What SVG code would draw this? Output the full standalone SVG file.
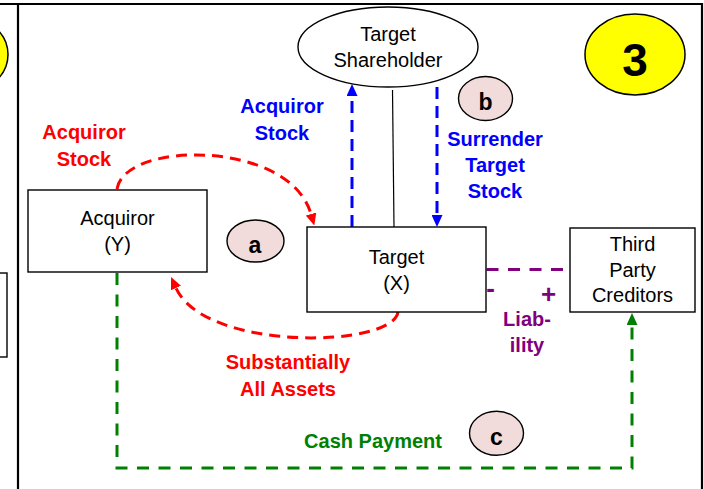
<svg xmlns="http://www.w3.org/2000/svg" width="704" height="489" viewBox="0 0 704 489">
<defs>
<style>
.node{fill:#fff;stroke:#000;stroke-width:1.4}
.t{font-family:"Liberation Sans",Arial,sans-serif;font-size:20px;fill:#000;text-anchor:middle}
.b{font-family:"Liberation Sans",Arial,sans-serif;font-size:20px;font-weight:bold;text-anchor:middle}
.badge{fill:#f2dcdb;stroke:#000;stroke-width:1.4}
.bl{font-size:23px}
.red{fill:#ff0000}.blue{fill:#0000ff}.green{fill:#008000}.purple{fill:#800080}
.c{fill:none;stroke-width:3}
</style>
<marker id="ar" markerUnits="userSpaceOnUse" markerWidth="12" markerHeight="11" refX="0" refY="5.5" orient="auto"><path d="M0,0 L12,5.5 L0,11 z" fill="#ff0000"/></marker>
<marker id="ab" markerUnits="userSpaceOnUse" markerWidth="12" markerHeight="11" refX="0" refY="5.5" orient="auto"><path d="M0,0 L12,5.5 L0,11 z" fill="#0000ff"/></marker>
<marker id="ag" markerUnits="userSpaceOnUse" markerWidth="12" markerHeight="11" refX="0" refY="5.5" orient="auto"><path d="M0,0 L12,5.5 L0,11 z" fill="#008000"/></marker>
</defs>
<rect width="704" height="489" fill="#fff"/>
<!-- neighbouring panel fragments -->
<ellipse cx="-42" cy="54.5" rx="50" ry="40.5" fill="#ffff00" stroke="#000" stroke-width="1.5"/>
<rect x="-120" y="273" width="127" height="84" fill="#fff" stroke="#000" stroke-width="1.4"/>
<!-- frame -->
<path d="M0,4 H702 V489 M18,4 V489" fill="none" stroke="#000" stroke-width="2.2"/>

<g id="connectors">
<path class="c" stroke="#ff0000" stroke-dasharray="11 7" d="M117,189 C125,140 290,140 311,214" marker-end="url(#ar)"/>
<path class="c" stroke="#ff0000" stroke-dasharray="11 7" d="M398,312 C393,348 205,352 176,288" marker-end="url(#ar)"/>
<path class="c" stroke="#0000ff" stroke-dasharray="12 7" d="M352,227 V96" marker-end="url(#ab)"/>
<path class="c" stroke="#0000ff" stroke-dasharray="12 7" d="M437,87 V215" marker-end="url(#ab)"/>
<path d="M392.5,90 L394,227" stroke="#000" stroke-width="1.2" fill="none"/>
<path class="c" stroke="#800080" stroke-dasharray="12 9.5" d="M486.5,269.5 H566"/>
<path class="c" stroke="#008000" stroke-dasharray="12 9.5" d="M117,273 V468 H632 V325" marker-end="url(#ag)"/>
</g>

<g id="labels">
<text class="b red" x="84" y="139">Acquiror</text>
<text class="b red" x="84" y="166">Stock</text>
<text class="b blue" x="282" y="113">Acquiror</text>
<text class="b blue" x="282" y="140">Stock</text>
<text class="b blue" x="495" y="146">Surrender</text>
<text class="b blue" x="495" y="172">Target</text>
<text class="b blue" x="495" y="198">Stock</text>
<text class="b red" x="288" y="369">Substantially</text>
<text class="b red" x="288" y="396">All Assets</text>
<text class="b green" x="373" y="448">Cash Payment</text>
<text class="b purple" x="527" y="326">Liab-</text>
<text class="b purple" x="527" y="352">ility</text>
<text class="b purple" x="490.5" y="297" style="font-size:26px">-</text>
<text class="b purple" x="548.5" y="302.5" style="font-size:26px">+</text>
</g>

<g id="shareholder">
<ellipse cx="388" cy="47" rx="90" ry="40" class="node"/>
<text class="t" x="388" y="41">Target</text>
<text class="t" x="388" y="67">Shareholder</text>
</g>
<g id="acquiror">
<rect x="28" y="190" width="179" height="82" class="node"/>
<text class="t" x="117.5" y="225">Acquiror</text>
<text class="t" x="117.5" y="251">(Y)</text>
</g>
<g id="target">
<rect x="307" y="227" width="179" height="85" class="node"/>
<text class="t" x="396.5" y="264">Target</text>
<text class="t" x="396.5" y="290">(X)</text>
</g>
<g id="creditors">
<rect x="570" y="228" width="125" height="84" class="node"/>
<text class="t" x="632.5" y="251">Third</text>
<text class="t" x="632.5" y="276.5">Party</text>
<text class="t" x="632.5" y="302">Creditors</text>
</g>
<g id="step3">
<ellipse cx="635" cy="54.5" rx="50" ry="40.5" fill="#ffff00" stroke="#000" stroke-width="1.5"/>
<text class="b" x="635" y="76" style="font-size:46px">3</text>
</g>
<g id="badge-a">
<ellipse cx="255.5" cy="241" rx="28.5" ry="21" class="badge"/>
<text class="b bl" x="255" y="252.5">a</text>
</g>
<g id="badge-b">
<ellipse cx="485.5" cy="98.5" rx="27" ry="22" class="badge"/>
<text class="b bl" x="485.5" y="110">b</text>
</g>
<g id="badge-c">
<ellipse cx="496.5" cy="433.3" rx="27" ry="22" class="badge"/>
<text class="b bl" x="496.5" y="445">c</text>
</g>
</svg>
